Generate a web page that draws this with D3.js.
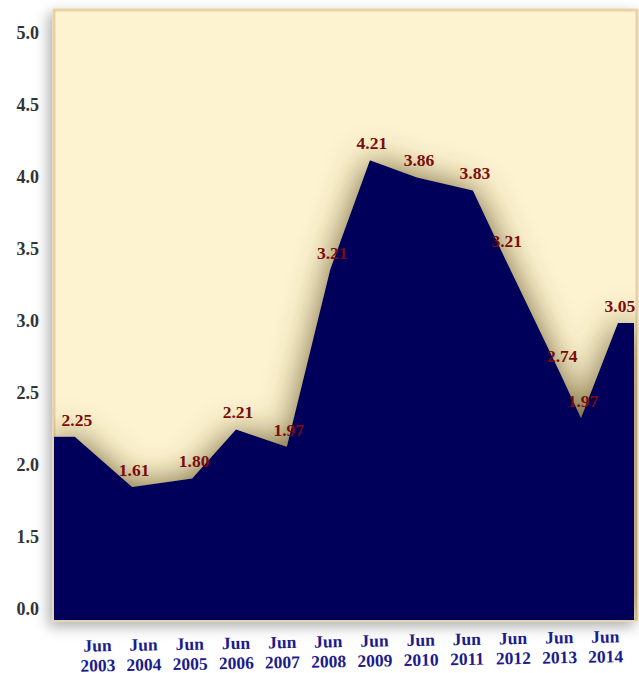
<!DOCTYPE html>
<html>
<head>
    <style>
        body { margin: 0; background: #ffffff; }
        .ylab text { font: bold 18px "Liberation Serif", serif; fill: #333333; }
        .xlab text { font: bold 17.5px "Liberation Serif", serif; fill: #1c1c8c; }
        .vlabel { font: bold 17.5px "Liberation Serif", serif; fill: #7a0c0c; text-anchor: middle; }
    </style>
    <script src="https://d3js.org/d3.v7.min.js"></script>
</head>
<body>
<svg width="639" height="673"></svg>
<script>
    // x position of each point, in years (Jun = .5)
    var periods = [2003.02, 2004.26, 2005.56, 2006.51, 2007.61, 2008.55, 2009.41, 2010.43, 2011.64, 2012.33, 2013.53, 2013.98, 2014.78];
    // heights as drawn
    var rates = [2.19, 1.84, 1.90, 2.24, 2.12, 3.35, 4.11, 3.99, 3.90, 3.43, 2.63, 2.32, 2.98];
    // printed labels
    var rateLabels = ["2.25", "1.61", "1.80", "2.21", "1.97", "3.21", "4.21", "3.86", "3.83", "3.21", "2.74", "1.97", "3.05"];
    var tickYears = [2003, 2004, 2005, 2006, 2007, 2008, 2009, 2010, 2011, 2012, 2013, 2014];
    var yTicks = [1.0, 1.5, 2.0, 2.5, 3.0, 3.5, 4.0, 4.5, 5.0];
    var yTickLabels = ["0.0", "1.5", "2.0", "2.5", "3.0", "3.5", "4.0", "4.5", "5.0"];

    var svg = d3.select("svg");
    var pLeft = 54, pRight = 637, pTop = 10, pBottom = 620;

    var x = d3.scaleLinear().domain([2003.5, 2014.5]).range([97, 605]);
    var y = d3.scaleLinear().domain([1, 5]).range([608, 32]);

    var defs = svg.append("defs");

    var pshadow = defs.append("filter").attr("id", "pshadow")
        .attr("x", "-10%").attr("y", "-10%").attr("width", "120%").attr("height", "120%");
    pshadow.append("feDropShadow")
        .attr("dx", -4).attr("dy", 5).attr("stdDeviation", 7)
        .attr("flood-color", "#000").attr("flood-opacity", 0.32);

    var glow = defs.append("filter").attr("id", "glow")
        .attr("x", "-20%").attr("y", "-20%").attr("width", "140%").attr("height", "140%");
    glow.append("feGaussianBlur").attr("in", "SourceAlpha").attr("stdDeviation", 17).attr("result", "blur");
    glow.append("feFlood").attr("flood-color", "#5e4c1c").attr("flood-opacity", 0.85);
    glow.append("feComposite").attr("in2", "blur").attr("operator", "in").attr("result", "shade");
    var merge = glow.append("feMerge");
    merge.append("feMergeNode").attr("in", "shade");
    merge.append("feMergeNode").attr("in", "SourceGraphic");

    defs.append("clipPath").attr("id", "panelclip")
        .append("rect")
        .attr("x", pLeft).attr("y", pTop)
        .attr("width", pRight - pLeft).attr("height", pBottom - pTop);

    // panel
    svg.append("rect")
        .attr("x", pLeft).attr("y", pTop)
        .attr("width", pRight - pLeft).attr("height", pBottom - pTop)
        .attr("fill", "#fdf3d0")
        .attr("stroke", "#e9d2a4")
        .attr("stroke-width", 3)
        .attr("filter", "url(#pshadow)");

    var points = periods.map(function (p, i) { return { t: p, v: rates[i] }; });
    var series = [{ t: x.invert(pLeft), v: rates[0] }]
        .concat(points)
        .concat([{ t: x.invert(pRight - 3), v: rates[rates.length - 1] }]);

    var area = d3.area()
        .x(function (d) { return x(d.t); })
        .y0(pBottom)
        .y1(function (d) { return y(d.v); });

    svg.append("g")
        .attr("clip-path", "url(#panelclip)")
        .append("path")
        .datum(series)
        .attr("d", area)
        .attr("fill", "#00005a")
        .attr("filter", "url(#glow)");

    svg.selectAll(".vlabel")
        .data(points)
        .enter().append("text")
        .attr("class", "vlabel")
        .attr("x", function (d) { return x(d.t) + 2; })
        .attr("y", function (d) { return y(d.v) - 11; })
        .text(function (d, i) { return rateLabels[i]; });

    // y axis
    svg.append("g")
        .attr("class", "ylab")
        .attr("transform", "translate(" + pLeft + ",0)")
        .call(d3.axisLeft(y).tickValues(yTicks)
            .tickFormat(function (d, i) { return yTickLabels[i]; })
            .tickSize(0).tickPadding(15))
        .call(function (g) { g.select(".domain").remove(); })
        .selectAll("text").attr("dy", "0.35em");

    // x axis, two-line labels
    var xg = svg.append("g")
        .attr("class", "xlab")
        .attr("transform", "rotate(-1,351,646) translate(0," + pBottom + ")")
        .call(d3.axisBottom(x).tickValues(tickYears.map(function (d) { return d + 0.5; }))
            .tickFormat("").tickSize(0));
    xg.select(".domain").remove();
    xg.selectAll(".tick text").each(function (d) {
        var t = d3.select(this).attr("y", 0).attr("dy", null);
        t.append("tspan").attr("x", 0).attr("y", 27).text("Jun");
        t.append("tspan").attr("x", 0).attr("y", 47).text(Math.floor(d));
    });
</script>
</body>
</html>
